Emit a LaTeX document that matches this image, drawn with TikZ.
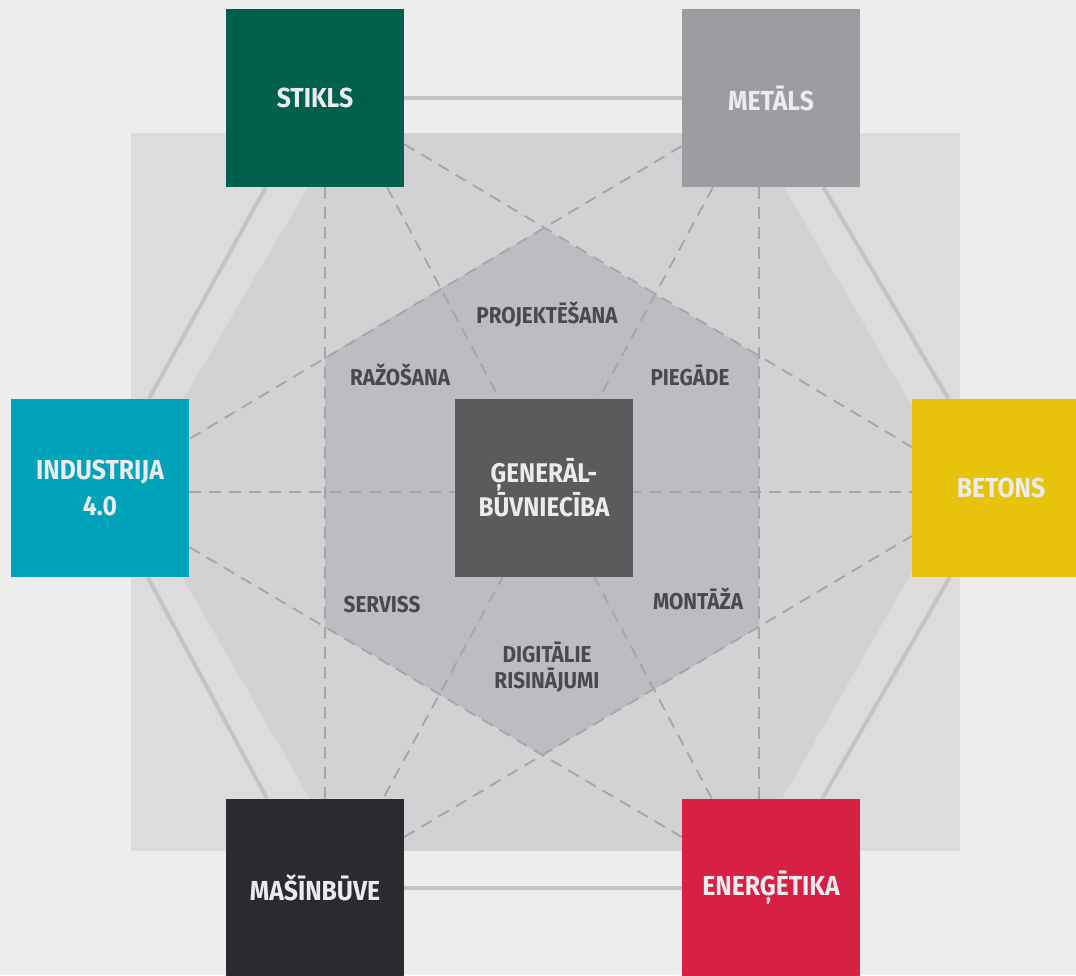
\documentclass[tikz,border=0pt]{standalone}
\usepackage{fontspec}
\setmainfont{Fira Sans}[FakeStretch=0.9]
\usetikzlibrary{positioning}

\definecolor{bgcol}{HTML}{EDEDED}
\definecolor{rectcol}{HTML}{DCDCDD}
\definecolor{hexcol}{HTML}{D2D2D4}
\definecolor{innercol}{HTML}{BDBCC0}
\definecolor{linecol}{HTML}{C4C4C4}
\definecolor{dashcol}{HTML}{A6A6A8}
\definecolor{stiklscol}{HTML}{00604C}
\definecolor{metalscol}{HTML}{9C9DA1}
\definecolor{induscol}{HTML}{00A3BA}
\definecolor{betonscol}{HTML}{E8C30C}
\definecolor{masincol}{HTML}{292B30}
\definecolor{energcol}{HTML}{D81F44}
\definecolor{gencol}{HTML}{5B5B5E}
\definecolor{txtcol}{HTML}{ECECEE}
\definecolor{phasecol}{HTML}{4A4A4D}

\pgfdeclarelayer{bg}
\pgfdeclarelayer{mid}
\pgfsetlayers{bg,mid,main}

\begin{document}
\begin{tikzpicture}[x=1pt,y=-1pt,
  field/.style={minimum size=178pt,inner sep=0pt,align=center,text=txtcol,
    font=\bfseries\fontsize{27.5}{36}\selectfont},
  phase/.style={align=center,text=phasecol,font=\bfseries\fontsize{23}{26}\selectfont},
  link/.style={linecol,line width=4pt},
  guide/.style={dashcol,line width=1.8pt,dash pattern=on 12pt off 8pt}]
\useasboundingbox (0,0) rectangle (1076,975);

\node[field,fill=stiklscol] (stikls) at (315,98) {STIKLS};
\node[field,fill=metalscol] (metals) at (771,98) {METĀLS};
\node[field,fill=induscol] (industrija) at (100,488) {INDUSTRIJA\\4.0};
\node[field,fill=gencol,font=\bfseries\fontsize{27}{32}\selectfont] (gen) at (544,488) {ĢENERĀL-\\BŪVNIECĪBA};
\node[field,fill=betonscol] (betons) at (1001,488) {BETONS};
\node[field,fill=masincol] (masinbuve) at (315,888) {MAŠĪNBŪVE};
\node[field,fill=energcol] (energetika) at (771,888) {ENERĢĒTIKA};

\node[phase] (projektesana) at (547,315) {PROJEKTĒŠANA};
\node[phase] (razosana) at (400,375) {RAŽOŠANA};
\node[phase] (piegade) at (690,375) {PIEGĀDE};
\node[phase] (serviss) at (382,605) {SERVISS};
\node[phase] (montaza) at (698,599) {MONTĀŽA};
\node[phase] (digitalie) at (547,667) {DIGITĀLIE\\RISINĀJUMI};

\begin{pgfonlayer}{bg}
\fill[bgcol] (0,0) rectangle (1076,975);
\fill[rectcol] (131,133) rectangle (960,851);
\fill[hexcol] (131,488) -- (340,133) -- (752,133) -- (960,488) -- (752,851) -- (340,851) -- cycle;
\fill[innercol] (543,228) -- (759,356) -- (759,627) -- (543,755) -- (325,627) -- (325,357) -- cycle;
\end{pgfonlayer}

\begin{pgfonlayer}{mid}
\draw[link] (stikls) -- (metals) (metals) -- (betons) (betons) -- (energetika)
  (energetika) -- (masinbuve) (masinbuve) -- (industrija) (industrija) -- (stikls);

\draw[guide] ([yshift=-46pt]stikls.east) -- ([yshift=41pt]betons.west);
\draw[guide] ([yshift=-48pt]metals.west) -- ([yshift=49pt]industrija.east);
\draw[guide] ([yshift=-59pt]industrija.east) -- ([yshift=51pt]energetika.west);
\draw[guide] ([yshift=51pt]masinbuve.east) -- ([yshift=-48pt]betons.west);
\draw[guide] ([xshift=10pt]stikls.south) -- ([xshift=10pt]masinbuve.north);
\draw[guide] ([xshift=-12pt]metals.south) -- ([xshift=-12pt]energetika.north);
\draw[guide] ([yshift=-4pt]industrija.east) -- ([yshift=-4pt]betons.west);
\draw[guide] ([xshift=72pt]stikls.south) -- ([xshift=-59pt]energetika.north);
\draw[guide] ([xshift=-58pt]metals.south) -- ([xshift=68pt]masinbuve.north);
\end{pgfonlayer}
\end{tikzpicture}
\end{document}
